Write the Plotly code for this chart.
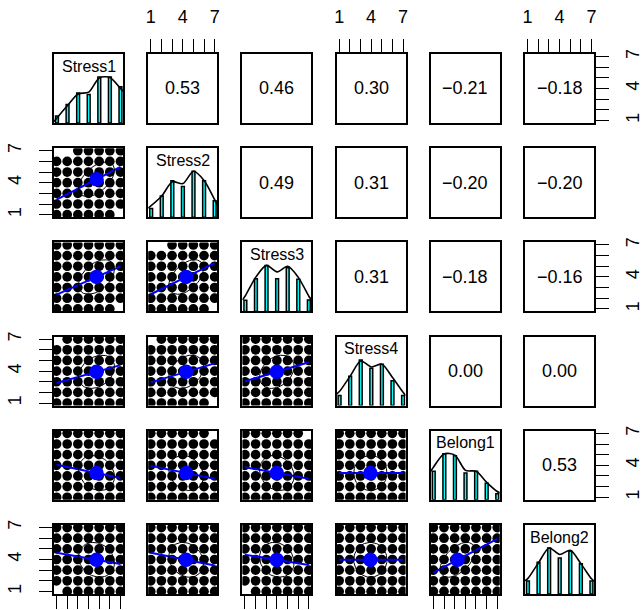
import numpy as np
import plotly.graph_objects as go

# ---- data -------------------------------------------------------------
variables = ["Stress1", "Stress2", "Stress3", "Stress4", "Belong1", "Belong2"]
scale_points = [1, 2, 3, 4, 5, 6, 7]
tick_text = ["1", "", "", "4", "", "", "7"]

# response frequencies per option, scaled so the most common option = 1
freq_stress1 = [0.15, 0.40, 0.65, 0.62, 1.00, 1.00, 0.79]
freq_stress2 = [0.19, 0.46, 0.79, 0.67, 1.00, 0.79, 0.36]
freq_stress3 = [0.24, 0.71, 1.00, 0.71, 0.95, 0.70, 0.25]
freq_stress4 = [0.22, 0.64, 0.99, 0.81, 0.90, 0.54, 0.22]
freq_belong1 = [0.62, 1.00, 0.96, 0.58, 0.62, 0.36, 0.13]
freq_belong2 = [0.28, 0.69, 1.00, 0.78, 0.93, 0.66, 0.28]

# kernel density estimates (peak scaled to 1) evaluated at density_x
density_x = [0.72, 1, 2, 3, 4, 5, 6, 7, 7.24]
dens_stress1 = [0.03, 0.11, 0.38, 0.63, 0.67, 0.98, 0.99, 0.75, 0.69]
dens_stress2 = [0.20, 0.25, 0.46, 0.77, 0.73, 1.00, 0.80, 0.38, 0.27]
dens_stress3 = [0.25, 0.34, 0.75, 1.00, 0.86, 0.98, 0.74, 0.33, 0.25]
dens_stress4 = [0.25, 0.31, 0.64, 0.97, 0.84, 0.90, 0.61, 0.29, 0.22]
dens_belong1 = [0.62, 0.72, 1.00, 0.97, 0.64, 0.62, 0.38, 0.18, 0.15]
dens_belong2 = [0.29, 0.34, 0.68, 1.00, 0.86, 0.95, 0.66, 0.33, 0.28]

# Pearson correlations, upper triangle, row by row
r_stress1 = [0.53, 0.46, 0.30, -0.21, -0.18]
r_stress2 = [0.49, 0.31, -0.20, -0.20]
r_stress3 = [0.31, -0.18, -0.16]
r_stress4 = [0.00, 0.00]
r_belong1 = [0.53]

# response combinations (x = column item, y = row item) nobody gave
missing_cells = {
    ("Stress2", "Stress1"): [(1, 7), (2, 7), (7, 1)],
    ("Stress3", "Stress1"): [(7, 1)],
    ("Stress3", "Stress2"): [(1, 7), (2, 7), (7, 1)],
    ("Stress4", "Stress1"): [(1, 7)],
    ("Stress4", "Stress2"): [(1, 7), (7, 1)],
    ("Belong1", "Stress2"): [(7, 7)],
    ("Belong1", "Stress3"): [(7, 7)],
    ("Belong2", "Stress1"): [(1, 1)],
    ("Belong2", "Stress3"): [(1, 1)],
}

freqs = [freq_stress1, freq_stress2, freq_stress3, freq_stress4, freq_belong1, freq_belong2]
dens = [dens_stress1, dens_stress2, dens_stress3, dens_stress4, dens_belong1, dens_belong2]
r_rows = [r_stress1, r_stress2, r_stress3, r_stress4, r_belong1]

n = len(variables)
R = np.eye(n)
for i, row in enumerate(r_rows):
    for k, val in enumerate(row):
        j = i + 1 + k
        R[i, j] = R[j, i] = val

# summary statistics from the response distributions
pts = np.array(scale_points, dtype=float)
means, sds = [], []
for f in freqs:
    w = np.array(f)
    m = (w * pts).sum() / w.sum()
    v = (w * (pts - m) ** 2).sum() / w.sum()
    means.append(m)
    sds.append(np.sqrt(v))

# ---- layout geometry ----------------------------------------------------
W, H = 643, 610
left0, top0, step, size = 54.0, 54.0, 94.2, 69.0
FONT = "Liberation Sans, Arial, Helvetica, sans-serif"
SCAT_RANGE = [0.76, 7.24]
DIAG_RANGE = [0.72, 7.24]

fig = go.Figure()
layout_axes = {}


def ax_id(r, c):
    return r * n + c + 1


def base_axis():
    return dict(showline=True, mirror=True, linecolor="black", linewidth=1.8,
                showgrid=False, zeroline=False, ticks="", showticklabels=False,
                fixedrange=True, automargin=False)


def with_ticks(d, side, angle=0, standoff=14, labels=True):
    d.update(dict(ticks="outside", ticklen=13, tickwidth=1.3, tickcolor="black",
                  tickvals=scale_points, ticktext=tick_text, showticklabels=labels,
                  side=side, tickangle=angle, ticklabelstandoff=standoff,
                  tickfont=dict(family=FONT, size=18, color="black")))
    return d


theta = np.linspace(0, 2 * np.pi, 61)

for r in range(n):
    for c in range(n):
        k = ax_id(r, c)
        xs = "" if k == 1 else str(k)
        x0 = (left0 + c * step) / W
        x1 = (left0 + c * step + size) / W
        ytop = top0 + r * step
        y1 = 1 - ytop / H
        y0 = 1 - (ytop + size) / H

        xa = base_axis()
        ya = base_axis()
        xa.update(domain=[x0, x1], anchor="y" + xs)
        ya.update(domain=[y0, y1], anchor="x" + xs)

        if r == c:
            xa["range"] = DIAG_RANGE
            ya["range"] = [0, 1.5]
            fig.add_trace(go.Bar(
                x=scale_points, y=freqs[r], width=0.27,
                marker=dict(color="cyan", line=dict(color="black", width=1.5)),
                xaxis="x" + xs, yaxis="y" + xs, hoverinfo="skip"))
            fig.add_trace(go.Scatter(
                x=density_x, y=dens[r], mode="lines",
                line=dict(color="black", width=1.6, shape="spline", smoothing=0.8),
                xaxis="x" + xs, yaxis="y" + xs, hoverinfo="skip"))
            fig.add_annotation(
                text=variables[r], xref=f"x{xs} domain", yref=f"y{xs} domain",
                x=0.5, y=0.826, showarrow=False, xanchor="center", yanchor="middle",
                font=dict(family=FONT, size=16, color="black"))
        elif r < c:
            xa["range"] = SCAT_RANGE
            ya["range"] = SCAT_RANGE
            # an empty trace so the panel frame is drawn
            fig.add_trace(go.Scatter(
                x=[None], y=[None], mode="markers", showlegend=False,
                xaxis="x" + xs, yaxis="y" + xs, hoverinfo="skip"))
            txt = f"{R[r, c]:.2f}".replace("-", "\u2212")
            fig.add_annotation(
                text=txt, xref=f"x{xs} domain", yref=f"y{xs} domain",
                x=0.5, y=0.5, showarrow=False, xanchor="center", yanchor="middle",
                font=dict(family=FONT, size=18, color="black"))
        else:
            xa["range"] = SCAT_RANGE
            ya["range"] = SCAT_RANGE
            miss = set(missing_cells.get((variables[r], variables[c]), []))
            gx, gy = [], []
            for yv in scale_points:
                for xv in scale_points:
                    if (xv, yv) not in miss:
                        gx.append(xv)
                        gy.append(yv)
            fig.add_trace(go.Scatter(
                x=gx, y=gy, mode="markers",
                marker=dict(size=9.7, color="black", line=dict(width=0)),
                xaxis="x" + xs, yaxis="y" + xs, hoverinfo="skip"))
            # least-squares line over the observed range
            rr = R[r, c]
            mx, my, sx, sy = means[c], means[r], sds[c], sds[r]
            slope = rr * sy / sx
            lx = [scale_points[0], scale_points[-1]]
            ly = [my + slope * (v - mx) for v in lx]
            fig.add_trace(go.Scatter(
                x=lx, y=ly, mode="lines", line=dict(color="blue", width=2),
                xaxis="x" + xs, yaxis="y" + xs, hoverinfo="skip"))
            # one-standard-deviation correlation ellipse
            t = np.sign(rr) / np.sqrt(2) if abs(rr) > 0 else 1 / np.sqrt(2)
            shape = np.diag([np.sqrt(1 + rr), np.sqrt(1 - rr)]) @ np.array([[t, t], [-t, t]])
            unit = np.column_stack([np.cos(theta), np.sin(theta)])
            el = unit @ shape
            fig.add_trace(go.Scatter(
                x=el[:, 0] * sx + mx, y=el[:, 1] * sy + my, mode="lines",
                line=dict(color="black", width=1),
                xaxis="x" + xs, yaxis="y" + xs, hoverinfo="skip"))
            fig.add_trace(go.Scatter(
                x=[mx], y=[my], mode="markers",
                marker=dict(size=14.5, color="blue", line=dict(width=0)),
                xaxis="x" + xs, yaxis="y" + xs, hoverinfo="skip"))

        # outer axes alternate between sides, as in a classic pairs plot
        if r == 0 and c % 2 == 1:
            with_ticks(xa, "top", 0, 9)
        if r == n - 1 and c % 2 == 0:
            # labels of the bottom axes fall below the page edge
            with_ticks(xa, "bottom", 0, 9, labels=False)
        if c == 0 and r % 2 == 1:
            with_ticks(ya, "left", -90, 11)
        if c == n - 1 and r % 2 == 0:
            with_ticks(ya, "right", -90, 8)

        layout_axes["xaxis" + xs] = xa
        layout_axes["yaxis" + xs] = ya

fig.update_layout(**layout_axes)
fig.update_layout(
    width=W, height=H, margin=dict(l=0, r=0, t=0, b=0),
    paper_bgcolor="white", plot_bgcolor="white", showlegend=False,
    font=dict(family=FONT, color="black"),
)

fig.write_html("out.html")
